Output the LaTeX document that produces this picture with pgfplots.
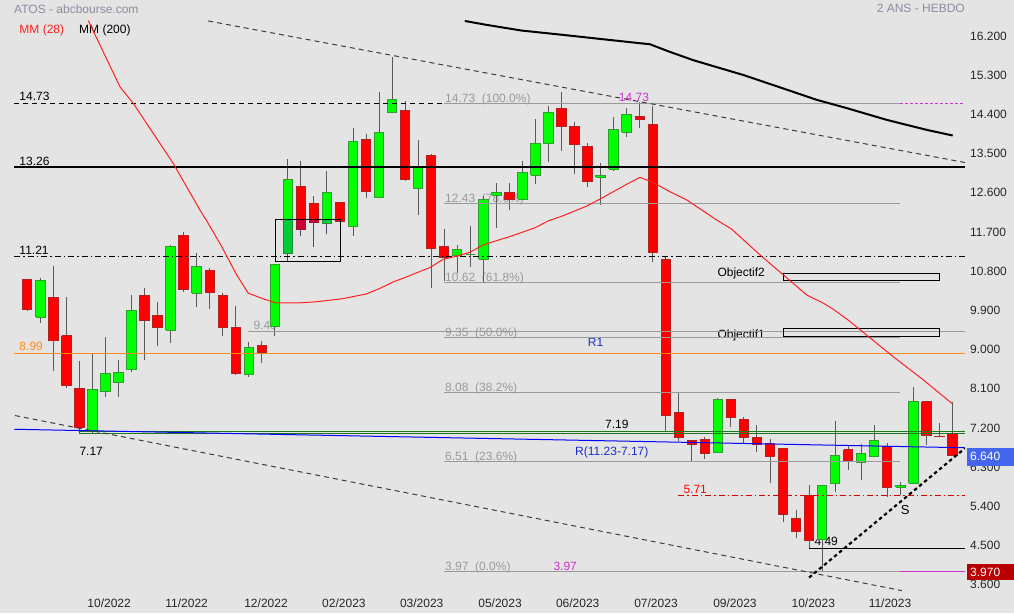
\documentclass[border=0pt]{standalone}
\usepackage{fontspec}
\setmainfont{Liberation Sans}
\usepackage{pgfplots}
\pgfplotsset{compat=1.18}
\usepackage{pgfplotstable}

\definecolor{bg}{HTML}{E4E4E4}
\definecolor{up}{HTML}{00FF00}
\definecolor{upedge}{HTML}{2E9E2E}
\definecolor{dn}{HTML}{FF0000}
\definecolor{dnedge}{HTML}{B22222}
\definecolor{upsel}{HTML}{00CC33}
\definecolor{upseledge}{HTML}{1F8A3A}
\definecolor{dnsel}{HTML}{CC0033}
\definecolor{dnseledge}{HTML}{A0102A}
\definecolor{wick}{HTML}{5A5A5A}
\definecolor{wicksel}{HTML}{4A4A6A}
\definecolor{fib}{HTML}{9A9A9A}
\definecolor{hdr}{HTML}{8C8CA0}
\definecolor{mag}{HTML}{CC33CC}
\definecolor{org}{HTML}{FF8C1A}
\definecolor{rblue}{HTML}{1A2ECC}
\definecolor{dgreen}{HTML}{1A7A1A}
\definecolor{trend}{HTML}{3C3C48}
\definecolor{mmred}{HTML}{FF2020}
\definecolor{lastbox}{HTML}{4466EE}
\definecolor{lowbox}{HTML}{B80000}

% weekly candles: index, open, high, low, close
\pgfplotstableread{
k o h l c
1 10.69 10.70 9.97 10.00
2 9.82 10.72 9.69 10.65
3 10.28 10.99 8.59 9.28
4 9.39 10.28 8.20 8.26
5 8.19 8.81 7.22 7.29
6 7.21 8.97 7.17 8.16
7 8.11 9.36 7.99 8.53
8 8.31 8.83 7.99 8.55
9 8.61 10.33 8.57 9.98
10 10.32 10.49 8.84 9.74
11 9.86 10.17 9.16 9.59
12 9.52 11.47 9.23 11.45
13 11.70 11.77 10.40 10.46
14 10.37 11.30 10.06 10.99
15 10.90 10.94 10.01 10.39
16 10.32 10.37 9.39 9.59
17 9.59 10.08 8.50 8.53
18 8.51 9.26 8.45 9.13
19 9.17 9.27 8.77 9.00
20 9.61 11.05 9.39 11.03
21 11.27 13.44 11.08 12.98
22 12.82 13.40 11.69 11.84
23 12.42 12.59 11.44 11.99
24 11.97 13.18 11.72 12.69
25 12.45 12.47 11.95 12.01
26 11.91 14.17 11.69 13.86
27 13.91 14.03 12.55 12.70
28 12.57 14.99 12.55 14.06
29 14.51 15.79 14.50 14.81
30 14.57 14.78 12.95 12.98
31 12.77 13.89 12.16 13.25
32 13.54 13.56 10.48 11.40
33 11.45 11.84 10.64 11.19
34 11.23 11.48 10.84 11.38
35 11.25 11.91 10.98 11.25
36 11.15 12.60 10.63 12.53
37 12.62 12.91 11.86 12.69
38 12.69 12.89 12.28 12.53
39 12.53 13.41 12.50 13.15
40 13.08 14.37 12.87 13.81
41 13.80 14.67 13.39 14.52
42 14.62 15.00 13.64 14.19
43 14.20 14.30 13.11 13.78
44 13.74 13.81 12.81 12.93
45 13.03 13.35 12.40 13.08
46 13.21 14.42 13.18 14.13
47 14.06 14.63 13.96 14.48
48 14.42 14.77 14.17 14.36
49 14.25 14.67 11.09 11.31
50 11.15 11.20 7.19 7.55
51 7.63 8.08 6.98 7.06
52 6.98 7.00 6.49 6.90
53 7.02 7.06 6.56 6.68
54 6.72 7.97 6.70 7.92
55 7.93 7.94 7.30 7.52
56 7.48 7.53 6.92 7.06
57 7.06 7.34 6.72 6.90
58 6.92 7.01 6.00 6.61
59 6.81 6.82 5.12 5.29
60 5.20 5.39 4.74 4.89
61 5.72 5.97 4.49 4.69
62 4.72 5.97 3.97 5.96
63 6.00 7.44 5.80 6.65
64 6.78 6.88 6.31 6.52
65 6.48 6.90 6.08 6.68
66 6.61 7.34 6.60 6.99
67 6.86 6.94 5.68 5.91
68 5.91 6.04 5.74 5.96
69 6.00 8.21 5.99 7.88
70 7.88 7.88 6.88 7.11
71 7.08 7.38 7.06 7.07
72 7.14 7.86 6.64 6.64
}\candles

\begin{document}
\begin{tikzpicture}[x=1pt, y=1pt,
  lbl/.style={anchor=west, inner sep=0pt, text height=8.6pt, text depth=0pt,
    font=\fontsize{12}{14}\selectfont}]
\fill[bg] (0,0) rectangle (1014,613);

% annotation text (under the candles)
\node[lbl, hdr] at (14,604) {ATOS - abcbourse.com};
\node[lbl, mmred] at (19.3,583.7) {MM (28)};
\node[lbl] at (79,583.7) {MM (200)};
\node[lbl, hdr, anchor=east] at (965,604.3) {2 ANS - HEBDO};
\node[lbl] at (19.3,516.3) {14.73};
\node[lbl] at (19.3,452) {13.26};
\node[lbl] at (19.3,363) {11.21};
\node[lbl, org] at (19.3,266.3) {8.99};
\node[lbl, fib] at (253.3,288) {9.49};
\node[lbl, fib] at (445,514.7) {14.73\ \ (100.0\%)};
\node[lbl, fib] at (445,414.7) {12.43\ \ (78.6\%)};
\node[lbl, fib] at (445,335.7) {10.62\ \ (61.8\%)};
\node[lbl, fib] at (445,280.7) {9.35\ \ (50.0\%)};
\node[lbl, fib] at (445,225.7) {8.08\ \ (38.2\%)};
\node[lbl, fib] at (445,157) {6.51\ \ (23.6\%)};
\node[lbl, fib] at (445,47.3) {3.97\ \ (0.0\%)};
\node[lbl, mag] at (553.3,47.3) {3.97};
\node[lbl, mag] at (618.7,515.7) {14.73};
\node[lbl, rblue] at (587.7,270.7) {R1};
\node[lbl, rblue] at (575,162) {R(11.23-7.17)};
\node[lbl] at (605,188.7) {7.19};
\node[lbl] at (79.3,161.3) {7.17};
\node[lbl] at (717.3,340.3) {Objectif2};
\node[lbl] at (717.3,279) {Objectif1};
\node[lbl, red] at (683.3,124) {5.71};
\node[lbl] at (814.3,71.3) {4.49};
\node[lbl, font=\fontsize{13}{15}\selectfont, text height=9.3pt] at (900.7,103) {S};

\begin{axis}[
  at={(0,0)}, anchor=south west,
  scale only axis, width=965pt, height=613pt,
  xmin=-1.095, xmax=72.965, ymin=3.026, ymax=17.102,
  axis line style={draw=none}, major tick length=0pt,
  /pgf/number format/assume math mode=true,
  ytick={3.6,4.5,5.4,6.3,7.2,8.1,9.0,9.9,10.8,11.7,12.6,13.5,14.4,15.3,16.2},
  ytick pos=right,
  yticklabel={\pgfmathprintnumber[fixed, fixed zerofill, precision=3]{\tick}},
  yticklabel style={anchor=west, inner sep=0pt, xshift=5pt, yshift=3.5pt,
    text height=8.6pt, text depth=0pt, font=\fontsize{12}{14}\selectfont, text=black!85},
  xtick={7.28,13.23,19.32,25.3,31.27,37.28,43.24,49.25,55.31,61.32,67.21},
  xticklabels={10/2022,11/2022,12/2022,02/2023,03/2023,05/2023,06/2023,07/2023,09/2023,10/2023,11/2023},
  xticklabel style={anchor=center, inner sep=0pt, yshift=10pt,
    text height=8.6pt, text depth=0pt, font=\fontsize{12}{14}\selectfont, text=black!85},
]

% candles
\pgfplotsforeachungrouped \r in {0,...,71}{%
  \pgfplotstablegetelem{\r}{k}\of\candles \let\ck\pgfplotsretval
  \pgfplotstablegetelem{\r}{o}\of\candles \let\co\pgfplotsretval
  \pgfplotstablegetelem{\r}{h}\of\candles \let\ch\pgfplotsretval
  \pgfplotstablegetelem{\r}{l}\of\candles \let\cl\pgfplotsretval
  \pgfplotstablegetelem{\r}{c}\of\candles \let\cc\pgfplotsretval
  \pgfmathsetmacro\xa{\ck-0.36}%
  \pgfmathsetmacro\xb{\ck+0.36}%
  \ifdim\cc pt<\co pt \def\fc{dn}\def\ec{dnedge}\else\def\fc{up}\def\ec{upedge}\fi
  \edef\next{%
    \noexpand\addplot[draw=wick, line width=1pt, forget plot]
      coordinates {(\ck,\cl) (\ck,\ch)};
    \noexpand\addplot[fill=\fc, draw=\ec, line width=1pt, forget plot]
      coordinates {(\xa,\co) (\xb,\co) (\xb,\cc) (\xa,\cc) (\xa,\co)};
  }\next
}

% candles seen through the selection box are tinted
\addplot[draw=wicksel, line width=1pt] coordinates {(21,11.10) (21,11.27)};
\addplot[draw=wicksel, line width=1pt] coordinates {(22,11.69) (22,11.84)};
\addplot[draw=wicksel, line width=1pt] coordinates {(23,11.44) (23,11.99)};
\addplot[draw=wicksel, line width=1pt] coordinates {(24,11.72) (24,11.97)};
\addplot[fill=upsel, draw=upseledge, line width=1pt] coordinates {(20.64,11.27) (21.36,11.27) (21.36,12.07) (20.64,12.07) (20.64,11.27)};
\addplot[fill=dnsel, draw=dnseledge, line width=1pt] coordinates {(21.64,11.84) (22.36,11.84) (22.36,12.07) (21.64,12.07) (21.64,11.84)};
\addplot[fill=dnsel, draw=dnseledge, line width=1pt] coordinates {(22.64,11.99) (23.36,11.99) (23.36,12.07) (22.64,12.07) (22.64,11.99)};
\addplot[fill=upsel, draw=upseledge, line width=1pt] coordinates {(23.64,11.97) (24.36,11.97) (24.36,12.07) (23.64,12.07) (23.64,11.97)};

% fibonacci levels
\addplot[fib, line width=1pt] coordinates {(33,14.73) (68,14.73)};
\addplot[fib, line width=1pt] coordinates {(33,12.43) (68,12.43)};
\addplot[fib, line width=1pt] coordinates {(33,10.62) (68,10.62)};
\addplot[fib, line width=1pt] coordinates {(33,9.35) (68,9.35)};
\addplot[fib, line width=1pt] coordinates {(33,8.08) (68,8.08)};
\addplot[fib, line width=1pt] coordinates {(33,6.51) (68,6.51)};
\addplot[fib, line width=1pt] coordinates {(33,3.97) (68,3.97)};
\addplot[fib, line width=1pt] coordinates {(17.94,9.49) (72.965,9.49)};
\addplot[mag, line width=1pt, dash pattern=on 3pt off 2pt] coordinates {(68,14.73) (72.965,14.73)};
\addplot[mag, line width=1pt] coordinates {(68,3.97) (72.965,3.97)};

% horizontal levels
\addplot[black, line width=1pt, dash pattern=on 5pt off 4pt] coordinates {(0,14.73) (33,14.73)};
\addplot[black, line width=2pt] coordinates {(0,13.26) (72.965,13.26)};
\addplot[black, line width=1pt, dash pattern=on 6pt off 3pt on 1.5pt off 3pt] coordinates {(0,11.21) (72.965,11.21)};
\addplot[org, line width=1pt] coordinates {(0,8.99) (72.965,8.99)};
\addplot[dgreen, line width=1pt] coordinates {(4.99,7.20) (72.965,7.20)};
\addplot[dgreen, line width=1pt] coordinates {(4.99,7.155) (72.965,7.155)};
\addplot[dgreen, line width=1pt] coordinates {(4.99,7.155) (4.99,7.20)};
\addplot[red!85!black, line width=1pt, dash pattern=on 6pt off 3pt on 1.5pt off 3pt] coordinates {(50.96,5.72) (72.965,5.72)};
\addplot[black, line width=1pt] coordinates {(61.02,4.50) (72.965,4.50)};

% trend lines
\addplot[blue, line width=1pt] coordinates {(0,7.245) (72.965,6.82)};
\addplot[trend, line width=1pt, dash pattern=on 5pt off 4pt] coordinates {(14.89,16.62) (72.965,13.37)};
\addplot[trend, line width=1pt, dash pattern=on 5pt off 4pt] coordinates {(0.056,7.56) (68.12,3.54)};
\addplot[black, line width=2.2pt, dash pattern=on 3.5pt off 3pt] coordinates {(61.0,3.84) (72.965,6.81)};

% boxes
\addplot[black, line width=1pt] coordinates {(20.03,11.10) (25.05,11.10) (25.05,12.07) (20.03,12.07) (20.03,11.10)};
\addplot[black, line width=1pt] coordinates {(59.02,10.66) (71.0,10.66) (71.0,10.83) (59.02,10.83) (59.02,10.66)};
\addplot[black, line width=1pt] coordinates {(59.02,9.37) (71.0,9.37) (71.0,9.56) (59.02,9.56) (59.02,9.37)};

% MM (28)
\addplot[mmred, line width=1pt] coordinates {
(5.68,16.63) (8.11,15.11) (9.13,14.73) (12.20,13.35) (14.25,12.28) (14.89,11.97)
(15.92,11.44) (17.07,10.79) (17.96,10.37) (19.11,10.24) (20.03,10.15) (22.06,10.15)
(23.08,10.17) (25.13,10.24) (26.99,10.35) (28.07,10.48) (29.09,10.63) (29.99,10.73)
(31.91,10.96) (32.93,11.15) (33.96,11.22) (34.98,11.31) (35.99,11.48) (38.04,11.67)
(39.96,11.87) (40.98,12.03) (42.13,12.15) (43.93,12.37) (44.95,12.53) (47.00,12.87)
(48.02,13.03) (49.04,12.91) (50.32,12.70) (51.61,12.51) (53.91,12.05) (55.06,11.84)
(57.23,11.25) (59.02,10.79) (60.81,10.33) (62.09,10.14) (62.86,10.00) (64.01,9.75)
(67.46,8.91) (69.76,8.38) (72.0,7.83)};

% MM (200)
\addplot[black, line width=2pt] coordinates {
(34.58,16.62) (36.26,16.53) (38.94,16.40) (42.14,16.30) (45.21,16.20) (48.79,16.085)
(50.32,15.91) (52.11,15.72) (55.95,15.38) (59.02,15.07) (61.58,14.81) (63.88,14.62)
(66.95,14.35) (70.02,14.12) (72.02,13.99)};

\end{axis}

% last value and low boxes on the price scale
\fill[lastbox] (966.7,147.3) rectangle (1014,165.3);
\node[lbl, white] at (970,156.3) {6.640};
\fill[lowbox] (966.7,33) rectangle (1014,48.7);
\node[lbl, white] at (970,40.7) {3.970};

\pgfresetboundingbox
\path[use as bounding box] (0,0) rectangle (1014,613);
\end{tikzpicture}
\end{document}
